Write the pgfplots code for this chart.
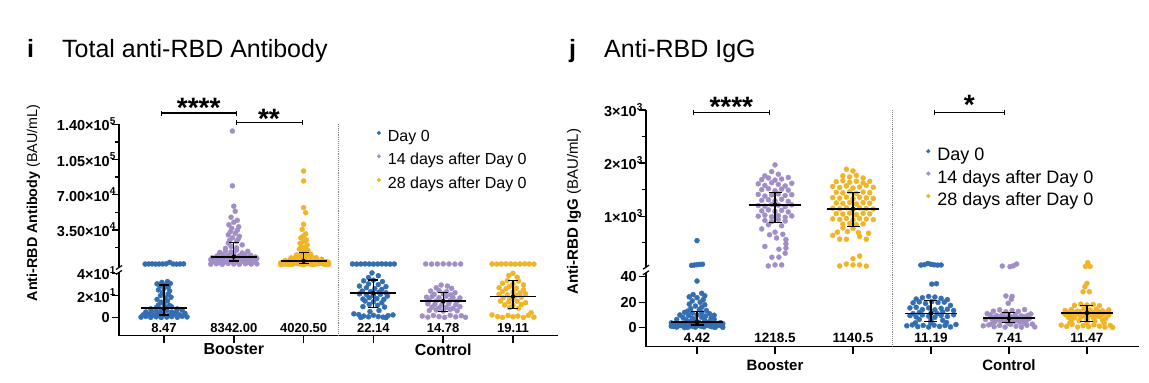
\documentclass[border=0pt]{standalone}
\usepackage{fontspec}
\setmainfont{Liberation Sans}
\usepackage{pgfplots}
\pgfplotsset{compat=1.18}
\usepackage{pgfplotstable}
\definecolor{cB}{RGB}{52,110,178}
\definecolor{cP}{RGB}{162,142,198}
\definecolor{cY}{RGB}{240,180,40}
\newcommand\sups[1]{\rlap{\raisebox{0.45em}{\fontsize{10}{10}\selectfont #1}}}
\pgfplotsset{
  base/.style={scale only axis, clip=false, clip mode=individual, tick align=outside,
    axis line style={line width=1.4pt,-},
    tick style={black, line width=1.4pt},
    major tick length=7.5pt, minor tick length=4.5pt,
    ticklabel style={font=\bfseries\fontsize{14.5}{14.5}\selectfont, inner sep=1.5pt},
    scaled y ticks=false},
  dots/.style={only marks, mark=*, mark size=2.5pt, mark options={draw=none}},
  iqr/.style={only marks, mark=none, forget plot, error bars/.cd, y dir=both, y explicit,
    error bar style={black, line width=1.3pt},
    error mark options={rotate=90, black, line width=1.3pt, mark size=#1}},
  medl/.style={black, line width=1.8pt, forget plot, mark=none},
}
% ---------------- panel i data ----------------
\pgfplotstableread{
dx y
-0.27 900
-0.22 1000
-0.17 1100
-0.12 900
-0.07 1000
-0.02 1000
0.03 1100
0.08 2600
0.13 1000
0.18 900
0.23 1000
0.28 1100
}\iAu
\pgfplotstableread{
dx y
-0.33 0.5
-0.26 1.2
-0.19 0.3
-0.11 0.8
-0.04 0.2
0.04 0.6
0.11 1.0
0.19 0.4
0.26 1.3
0.33 0.7
-0.30 2.5
-0.22 3.1
-0.15 2.2
-0.07 3.6
0.00 2.8
0.07 2.1
0.15 3.3
0.22 2.6
0.30 3.9
-0.26 5.2
-0.18 6.0
-0.11 5.6
-0.04 4.8
0.04 6.5
0.11 5.1
0.18 5.9
0.26 6.8
-0.19 8.0
-0.11 9.2
-0.04 7.6
0.04 8.8
0.11 9.8
0.19 7.9
-0.08 11.5
0.00 12.2
0.08 11.0
-0.04 14.0
0.05 15.2
-0.10 16.5
0.02 17.8
0.10 18.5
-0.05 20.0
0.06 21.3
-0.02 22.8
0.08 24.0
-0.08 25.0
0.00 26.5
0.06 27.5
-0.06 28.8
0.03 29.8
-0.10 30.5
0.09 30.9
-0.03 31.8
0.05 32.5
}\iAl
\pgfplotstableread{
dx y
-0.33 800
-0.25 1200
-0.165 600
-0.08 1500
0.00 1000
0.08 700
0.165 1300
0.25 900
0.33 1100
-0.31 3200
-0.22 3800
-0.13 3000
-0.04 3600
0.04 3400
0.13 3900
0.22 3100
0.31 3500
-0.20 2200
0.20 2400
-0.33 5200
-0.25 6000
-0.165 5500
-0.08 6400
0.00 5000
0.08 6200
0.165 5800
0.25 5300
0.33 6500
-0.31 7200
-0.22 7800
-0.13 8100
-0.04 7000
0.04 7600
0.13 8300
0.22 7400
0.31 7900
-0.24 9000
-0.16 10200
-0.08 9500
0.00 10800
0.08 9200
0.16 10000
0.24 9700
-0.20 12500
-0.12 14000
-0.04 13000
0.04 14800
0.12 12000
0.20 13600
-0.12 16500
-0.04 18500
0.04 17000
0.12 20000
-0.08 21800
0.04 23500
-0.06 24500
0.06 25500
-0.02 27000
0.08 28500
-0.08 30000
0.02 31500
-0.05 33000
0.05 34500
-0.03 36500
0.07 38000
-0.07 40000
0.00 42500
0.05 44500
-0.04 47500
0.02 53500
0.00 58500
-0.02 78800
-0.02 133300
}\iB
\pgfplotstableread{
dx y
-0.33 300
-0.25 900
-0.165 500
-0.08 1400
0.00 200
0.08 1100
0.165 700
0.25 1600
0.33 400
-0.29 1000
-0.21 600
-0.125 1500
-0.04 800
0.04 1200
0.125 350
0.21 1300
0.29 650
0.36 900
-0.33 2000
-0.25 2600
-0.165 3200
-0.08 1900
0.00 3800
0.08 2400
0.165 3000
0.25 2200
0.33 3500
-0.29 2800
-0.21 3400
-0.125 2100
-0.04 3900
0.04 2500
0.125 3600
0.21 1800
0.29 3100
0.36 2300
-0.26 4500
-0.19 5200
-0.11 6000
-0.04 4800
0.04 6500
0.11 5500
0.19 4300
0.26 5800
-0.18 7000
-0.11 8200
-0.04 7600
0.04 9500
0.11 8800
0.18 7300
-0.10 10000
-0.03 11500
0.04 12500
0.10 10800
0.00 13500
0.06 14500
-0.06 16000
0.03 17500
-0.03 18200
0.05 20000
-0.05 21600
0.00 23500
0.04 25000
-0.04 27000
0.00 28900
0.03 31000
-0.02 35500
0.00 40500
0.03 52000
0.00 57000
0.00 83600
0.00 93500
}\iC
\pgfplotstableread{
dx y
-0.30 1000
-0.24 900
-0.18 1000
-0.12 1100
-0.06 1000
0.00 900
0.06 1000
0.12 1100
0.18 1000
0.24 900
0.30 1000
}\iDu
\pgfplotstableread{
dx y
-0.02 40.3
0.07 37.8
-0.07 36.2
-0.14 33.2
0.00 33.8
0.13 32.5
-0.07 30.5
0.07 29.8
-0.20 28.5
0.18 28.0
-0.10 27.0
0.02 26.2
0.12 25.5
-0.16 24.0
-0.04 23.5
0.08 23.0
0.18 22.5
-0.20 21.5
-0.10 20.8
0.00 20.0
0.10 21.0
0.20 19.5
-0.06 18.0
0.05 17.2
0.15 16.5
-0.15 16.8
-0.12 15.0
0.00 14.2
0.12 13.5
-0.06 12.0
0.06 11.2
-0.15 10.0
0.16 9.6
-0.28 3.5
-0.21 2.8
-0.14 1.5
-0.07 0.8
0.00 2.2
0.07 1.0
0.14 0.5
0.21 1.8
0.28 2.5
-0.18 0.2
0.18 0.1
-0.05 5.5
0.08 6.5
}\iDl
\pgfplotstableread{
dx y
-0.25 1000
-0.167 900
-0.083 1000
0.00 1100
0.083 1000
0.167 900
0.25 1000
}\iEu
\pgfplotstableread{
dx y
-0.03 29.4
0.06 28.5
-0.10 27.0
0.12 26.5
-0.18 24.0
-0.06 24.5
0.05 23.5
0.17 22.5
-0.13 21.0
0.00 21.5
0.11 20.5
-0.24 18.5
-0.16 19.0
-0.06 18.0
0.04 19.2
0.14 18.2
0.24 17.8
-0.20 15.5
-0.10 15.0
0.00 14.6
0.10 15.5
0.20 14.8
-0.22 12.5
-0.12 12.0
-0.02 11.5
0.08 12.5
0.18 11.8
-0.16 9.5
-0.06 8.8
0.04 9.2
0.14 8.5
0.24 10.0
-0.20 6.5
-0.10 7.0
0.00 6.0
0.10 7.5
0.20 6.2
-0.30 1.5
-0.22 0.5
-0.14 2.0
-0.06 1.0
0.02 0.3
0.10 2.2
0.18 0.8
0.26 1.8
0.32 0.4
}\iEl
\pgfplotstableread{
dx y
-0.30 1000
-0.233 900
-0.167 1000
-0.10 1100
-0.033 1000
0.033 900
0.10 1000
0.167 1100
0.233 1000
0.30 900
}\iFu
\pgfplotstableread{
dx y
0.00 40.0
-0.06 38.0
0.06 36.5
-0.08 33.5
0.08 33.0
-0.15 31.0
0.00 30.5
0.15 29.5
-0.05 28.2
-0.20 27.0
-0.10 26.0
0.05 26.5
0.15 25.0
-0.15 23.5
0.00 23.0
0.10 22.2
-0.20 21.0
-0.08 20.5
0.05 20.0
0.18 21.5
-0.14 18.0
0.00 17.5
0.12 18.5
-0.05 16.2
-0.18 15.0
-0.06 14.2
0.06 14.8
0.18 13.5
-0.12 11.5
0.00 11.0
0.12 12.0
-0.05 9.0
0.08 8.5
-0.30 2.5
-0.22 1.0
-0.15 0.3
-0.07 2.0
0.00 0.8
0.07 1.5
0.15 0.2
0.22 2.2
0.30 0.5
0.26 4.5
}\iFl
% ---------------- panel j data ----------------
\pgfplotstableread{
dx y
0.00 540
-0.07 75
-0.035 80
0.00 88
0.035 92
0.07 96
}\jAu
\pgfplotstableread{
dx y
0.00 36.6
0.06 27.0
-0.05 26.0
0.10 25.0
-0.10 24.2
0.00 23.5
0.08 22.0
-0.06 21.0
0.04 20.0
-0.10 18.5
0.10 18.0
-0.02 17.0
0.06 16.0
-0.08 15.0
0.03 14.2
0.12 13.5
-0.12 13.0
-0.16 12.0
-0.06 11.5
0.06 11.8
0.16 11.0
-0.22 10.0
-0.11 9.5
0.00 10.0
0.11 9.2
0.22 9.8
-0.18 8.0
-0.06 7.5
0.06 8.2
0.18 7.6
-0.26 6.5
-0.14 6.0
-0.02 6.3
0.10 5.8
0.22 6.6
-0.08 5.0
0.16 4.8
-0.33 3.8
-0.26 4.2
-0.19 3.6
-0.12 4.4
-0.05 3.9
0.02 4.3
0.09 3.7
0.16 4.1
0.23 3.5
0.30 4.0
-0.30 2.5
-0.23 2.9
-0.16 2.3
-0.09 3.1
-0.02 2.6
0.05 2.2
0.12 3.0
0.19 2.4
0.26 2.8
0.33 3.2
-0.33 1.2
-0.26 0.5
-0.19 1.6
-0.12 0.3
-0.05 1.0
0.02 1.8
0.09 0.6
0.16 1.4
0.23 0.2
0.30 1.9
-0.30 0.9
-0.23 1.7
-0.16 0.1
-0.09 1.3
-0.02 0.4
0.05 1.1
0.12 2.0
0.19 0.8
0.26 1.5
0.33 0.3
}\jAl
\pgfplotstableread{
dx y
0.00 1966
-0.043 1840
0.043 1790
-0.13 1760
-0.17 1690
-0.085 1720
0.00 1680
0.085 1700
0.17 1730
-0.215 1610
-0.13 1580
-0.043 1630
0.043 1600
0.13 1570
0.215 1620
-0.17 1500
-0.085 1520
0.00 1480
0.085 1510
0.17 1490
-0.215 1410
-0.13 1380
-0.043 1400
0.043 1420
0.13 1390
0.215 1405
-0.17 1300
-0.085 1310
0.00 1290
0.085 1320
0.17 1280
-0.215 1200
-0.13 1190
-0.043 1220
0.043 1210
0.13 1180
0.215 1215
-0.17 1100
-0.085 1120
0.00 1090
0.085 1110
0.17 1080
-0.215 1000
-0.13 1020
-0.043 990
0.043 1010
0.13 980
0.215 1005
-0.13 920
-0.043 900
0.043 940
0.13 910
-0.085 840
0.085 820
-0.17 760
0.00 700
0.10 660
-0.07 650
0.02 590
0.14 560
-0.13 430
0.14 480
0.14 400
0.05 378
0.13 303
-0.04 228
0.05 228
-0.086 64
0.00 83
0.085 83
}\jB
\pgfplotstableread{
dx y
-0.085 1885
0.00 1853
-0.13 1760
-0.043 1740
0.043 1770
0.13 1720
-0.215 1650
-0.13 1670
-0.043 1640
0.043 1660
0.13 1630
0.215 1655
-0.26 1560
-0.17 1540
-0.085 1570
0.00 1530
0.085 1550
0.17 1580
0.26 1545
-0.215 1450
-0.13 1440
-0.043 1460
0.043 1430
0.13 1455
0.215 1445
-0.26 1350
-0.17 1340
-0.085 1360
0.00 1330
0.085 1355
0.17 1345
0.26 1335
-0.215 1250
-0.13 1240
-0.043 1260
0.043 1230
0.13 1255
0.215 1245
-0.26 1150
-0.17 1140
-0.085 1160
0.00 1130
0.085 1155
0.17 1145
0.26 1135
-0.215 1050
-0.13 1040
-0.043 1060
0.043 1030
0.13 1055
0.215 1045
-0.26 950
-0.17 940
-0.085 960
0.00 930
0.085 955
0.17 945
0.26 935
-0.13 850
-0.043 860
0.043 840
0.13 855
-0.13 780
0.00 770
-0.20 700
-0.07 710
0.07 690
0.20 680
-0.26 640
-0.17 567
-0.085 567
0.085 620
0.17 567
0.00 200
0.085 250
-0.17 64
-0.085 100
0.00 83
0.085 83
0.17 60
}\jC
\pgfplotstableread{
dx y
-0.13 80
-0.085 88
-0.04 110
0.00 95
0.04 85
0.085 80
0.13 82
}\jDu
\pgfplotstableread{
dx y
0.01 34.2
0.07 34.5
-0.19 22.5
-0.11 23.5
-0.03 24.5
0.05 24.0
0.13 23.0
0.21 22.0
-0.23 19.5
-0.15 20.2
-0.07 19.0
0.01 20.5
0.09 19.8
0.17 20.0
0.25 17.5
-0.27 15.5
-0.19 16.0
-0.11 14.2
-0.03 15.5
0.05 14.0
0.13 15.2
0.21 14.5
0.29 13.5
-0.15 12.0
0.00 11.5
0.15 12.2
-0.27 9.5
-0.19 8.5
-0.11 10.0
-0.03 9.0
0.05 8.2
0.13 9.6
0.21 8.8
0.29 10.2
-0.23 11.0
0.08 11.0
-0.15 6.5
0.00 6.0
0.15 5.8
-0.31 1.5
-0.24 2.2
-0.17 0.8
-0.10 1.8
-0.03 0.5
0.04 2.0
0.11 1.0
0.18 1.7
0.25 0.6
0.32 2.5
-0.20 3.8
0.00 3.5
0.20 4.0
}\jDl
\pgfplotstableread{
dx y
-0.086 62
0.013 50
0.055 65
0.098 100
}\jEu
\pgfplotstableread{
dx y
-0.04 24.9
0.04 24.5
0.03 22.3
-0.01 19.1
-0.20 13.0
-0.12 14.0
-0.04 12.5
0.04 13.5
0.12 12.8
0.20 14.2
-0.28 11.0
0.28 10.8
-0.24 10.0
-0.16 9.5
-0.08 10.5
0.00 9.8
0.08 10.2
0.16 9.2
0.24 9.6
-0.20 8.0
-0.12 8.5
-0.04 7.8
0.04 8.2
0.12 7.6
0.20 8.4
-0.30 6.5
-0.22 7.0
-0.14 6.2
-0.06 6.8
0.02 7.2
0.10 6.0
0.18 6.6
0.26 7.1
-0.18 4.8
-0.10 5.2
-0.02 4.5
0.06 5.0
0.14 4.2
0.22 5.3
-0.33 1.5
-0.26 2.2
-0.19 0.8
-0.12 1.8
-0.05 0.5
0.02 2.6
0.09 1.2
0.16 0.4
0.23 1.9
0.30 2.8
0.33 0.6
-0.22 3.2
0.00 3.4
0.20 3.5
}\jEl
\pgfplotstableread{
dx y
0.01 126
-0.02 55
0.04 55
}\jFu
\pgfplotstableread{
dx y
0.00 34.8
-0.026 32.2
0.03 28.2
-0.05 28.2
-0.16 17.5
-0.08 18.5
0.00 17.8
0.08 18.2
0.16 17.2
-0.28 13.5
-0.20 14.2
-0.12 13.0
-0.04 14.8
0.04 13.8
0.12 14.5
0.20 13.2
0.28 14.0
-0.24 12.0
-0.16 11.8
-0.08 12.5
0.00 12.2
0.08 11.9
0.16 12.4
0.24 11.7
-0.28 10.5
-0.20 9.8
-0.12 10.8
-0.04 9.5
0.04 10.2
0.12 9.2
0.20 10.6
0.28 9.9
-0.24 8.2
-0.16 7.8
-0.08 8.5
0.00 7.5
0.08 8.0
0.16 8.8
0.24 7.2
-0.20 6.0
-0.10 5.5
0.00 6.3
0.10 5.2
0.20 5.8
-0.33 2.0
-0.26 1.0
-0.19 2.6
-0.12 0.5
-0.05 1.6
0.02 0.8
0.09 2.2
0.16 1.2
0.23 0.4
0.30 1.8
-0.22 3.8
0.00 4.0
0.22 3.6
0.33 0.2
}\jFl
\begin{document}
\begin{tikzpicture}[x=1pt,y=1pt]
\path[use as bounding box] (0,0) rectangle (1149,383);
% titles
\node[anchor=base west, inner sep=0pt, font=\bfseries\fontsize{25}{25}\selectfont] at (27,325) {i};
\node[anchor=base west, inner sep=0pt, font=\fontsize{25}{25}\selectfont] at (62,325) {Total anti-RBD Antibody};
\node[anchor=base west, inner sep=0pt, font=\bfseries\fontsize{25}{25}\selectfont] at (569,325) {j};
\node[anchor=base west, inner sep=0pt, font=\fontsize{25}{25}\selectfont] at (604,325) {Anti-RBD IgG};
% y labels
\node[rotate=90, inner sep=0pt, font=\fontsize{14.3}{14.3}\selectfont] at (33.5,180) {\textbf{Anti-RBD Antibody} (BAU/mL)};
\node[rotate=90, inner sep=0pt, font=\fontsize{15}{15}\selectfont] at (574,171.3) {\textbf{Anti-RBD IgG} (BAU/mL)};

% ===== panel i upper =====
\begin{axis}[base, at={(119pt,115.5pt)}, anchor=south west, width=439pt, height=143.2pt,
  xmin=0.355, xmax=6.645, ymin=-2500, ymax=140000,
  axis x line=none, axis y line*=left, xtick=\empty,
  ytick={35000,70000,105000,140000},
  yticklabels={3.50×10\sups{4},7.00×10\sups{4},1.05×10\sups{5},1.40×10\sups{5}},
  minor ytick={17500,52500,87500,122500},
  legend style={draw=none, fill=none, at={(axis description cs:0.587,0.975)}, anchor=north west,
    font=\fontsize{16}{16}\selectfont, inner sep=0pt, row sep=6.5pt, column sep=5pt},
  legend cell align=left,
  legend image code/.code={\fill[#1] (2pt,3.5pt) circle (1.8pt);},
]
\draw[gray, densely dotted, line width=0.9pt] (axis cs:3.5,-2500) -- (axis cs:3.5,140000);
\addplot[dots, cB] table[x expr=\thisrow{dx}+1, y=y] {\iAu};
\addlegendentry{Day 0}
\addplot[dots, cP] table[x expr=\thisrow{dx}+2, y=y] {\iB};
\addlegendentry{14 days after Day 0}
\addplot[dots, cY] table[x expr=\thisrow{dx}+3, y=y] {\iC};
\addlegendentry{28 days after Day 0}
\addplot[dots, cB, forget plot] table[x expr=\thisrow{dx}+4, y=y] {\iDu};
\addplot[dots, cP, forget plot] table[x expr=\thisrow{dx}+5, y=y] {\iEu};
\addplot[dots, cY, forget plot] table[x expr=\thisrow{dx}+6, y=y] {\iFu};
\addplot[medl] coordinates {(1.67,8342) (2.33,8342)};
\addplot[iqr=5pt] coordinates {(2,8342) += (0,14258) -= (0,4342)};
\addplot[medl] coordinates {(2.67,4020.5) (3.33,4020.5)};
\addplot[iqr=5pt] coordinates {(3,4020.5) += (0,8579.5) -= (0,2320.5)};
% brackets
\draw[line width=1.1pt] (axis cs:0.967,151240) -- (axis cs:2.036,151240);
\draw[line width=1.1pt] (axis cs:0.967,151240) ++(0pt,-2.5pt) -- ++(0pt,5pt);
\draw[line width=1.1pt] (axis cs:2.036,151240) ++(0pt,-2.5pt) -- ++(0pt,5pt);
\draw[line width=1.1pt] (axis cs:2.036,141990) -- (axis cs:2.99,141990);
\draw[line width=1.1pt] (axis cs:2.036,141990) ++(0pt,-2.5pt) -- ++(0pt,5pt);
\draw[line width=1.1pt] (axis cs:2.99,141990) ++(0pt,-2.5pt) -- ++(0pt,5pt);
\node[anchor=base, inner sep=0pt, font=\bfseries\fontsize{28}{28}\selectfont] at (axis cs:1.497,146270) {****};
\node[anchor=base, inner sep=0pt, font=\bfseries\fontsize{28}{28}\selectfont] at (axis cs:2.504,136300) {**};
\draw[line width=1.2pt] (rel axis cs:0,0) ++(-3pt,-2pt) -- ++(6pt,4pt);
\end{axis}

% ===== panel i lower =====
\begin{axis}[base, at={(119pt,47.3pt)}, anchor=south west, width=439pt, height=63.3pt,
  xmin=0.355, xmax=6.645, ymin=-16.2, ymax=40.8,
  axis x line*=bottom, axis y line*=left,
  xtick={1,2,3,4,5,6}, xticklabels={,,,,,},
  ytick={0,20,40}, yticklabels={0,2×10\sups{1},4×10\sups{1}},
]
\draw[gray, densely dotted, line width=0.9pt] (axis cs:3.5,-16.2) -- (axis cs:3.5,40.8) -- ++(0pt,5pt);
\addplot[dots, cB] table[x expr=\thisrow{dx}+1, y=y] {\iAl};
\addplot[dots, cB] table[x expr=\thisrow{dx}+4, y=y] {\iDl};
\addplot[dots, cP] table[x expr=\thisrow{dx}+5, y=y] {\iEl};
\addplot[dots, cY] table[x expr=\thisrow{dx}+6, y=y] {\iFl};
\addplot[medl] coordinates {(0.67,8.47) (1.33,8.47)};
\addplot[iqr=5pt] coordinates {(1,8.47) += (0,21.03) -= (0,6.07)};
\addplot[medl] coordinates {(3.67,22.14) (4.33,22.14)};
\addplot[iqr=5pt] coordinates {(4,22.14) += (0,11.86) -= (0,13.14)};
\addplot[medl] coordinates {(4.67,14.78) (5.33,14.78)};
\addplot[iqr=5pt] coordinates {(5,14.78) += (0,7.72) -= (0,9.38)};
\addplot[medl] coordinates {(5.67,19.11) (6.33,19.11)};
\addplot[iqr=5pt] coordinates {(6,19.11) += (0,14.19) -= (0,10.61)};
\begin{scope}[every node/.style={font=\bfseries\fontsize{13}{13}\selectfont, inner sep=0pt}]
\node at (axis cs:1,-9.5) {8.47};
\node at (axis cs:2,-9.5) {8342.00};
\node at (axis cs:3,-9.5) {4020.50};
\node at (axis cs:4,-9.5) {22.14};
\node at (axis cs:5,-9.5) {14.78};
\node at (axis cs:6,-9.5) {19.11};
\end{scope}
\node[font=\bfseries\fontsize{16}{16}\selectfont, inner sep=0pt] at (axis cs:2,-16.2) [yshift=-13.8pt] {Booster};
\node[font=\bfseries\fontsize{16}{16}\selectfont, inner sep=0pt] at (axis cs:5,-16.2) [yshift=-13.8pt] {Control};
\draw[line width=1.2pt] (rel axis cs:0,1) ++(-3pt,-2pt) -- ++(6pt,4pt);
\end{axis}

% ===== panel j upper =====
\begin{axis}[base, at={(646pt,115.8pt)}, anchor=south west, width=493pt, height=157.2pt,
  xmin=0.346, xmax=6.667, ymin=40, ymax=3000,
  axis x line=none, axis y line*=left, xtick=\empty,
  ytick={1000,2000,3000},
  yticklabels={1×10\sups{3},2×10\sups{3},3×10\sups{3}},
  minor ytick={500,1500,2500},
  legend style={draw=none, fill=none, at={(axis description cs:0.568,0.771)}, anchor=north west,
    font=\fontsize{18}{18}\selectfont, inner sep=0pt, row sep=4pt, column sep=5pt},
  legend cell align=left,
  legend image code/.code={\fill[#1] (2pt,4pt) circle (1.9pt);},
]
\draw[gray, densely dotted, line width=0.9pt] (axis cs:3.51,40) -- (axis cs:3.51,3000);
\addplot[dots, cB] table[x expr=\thisrow{dx}+1, y=y] {\jAu};
\addlegendentry{Day 0}
\addplot[dots, cP] table[x expr=\thisrow{dx}+2, y=y] {\jB};
\addlegendentry{14 days after Day 0}
\addplot[dots, cY] table[x expr=\thisrow{dx}+3, y=y] {\jC};
\addlegendentry{28 days after Day 0}
\addplot[dots, cB, forget plot] table[x expr=\thisrow{dx}+4, y=y] {\jDu};
\addplot[dots, cP, forget plot] table[x expr=\thisrow{dx}+5, y=y] {\jEu};
\addplot[dots, cY, forget plot] table[x expr=\thisrow{dx}+6, y=y] {\jFu};
\addplot[medl] coordinates {(1.67,1218.5) (2.33,1218.5)};
\addplot[iqr=6.5pt] coordinates {(2,1218.5) += (0,225.5) -= (0,338.5)};
\addplot[medl] coordinates {(2.67,1140.5) (3.33,1140.5)};
\addplot[iqr=6.5pt] coordinates {(3,1140.5) += (0,303.5) -= (0,340.5)};
\draw[line width=1.1pt] (axis cs:0.95,2957) -- (axis cs:1.93,2957);
\draw[line width=1.1pt] (axis cs:0.95,2957) ++(0pt,-2.5pt) -- ++(0pt,5pt);
\draw[line width=1.1pt] (axis cs:1.93,2957) ++(0pt,-2.5pt) -- ++(0pt,5pt);
\draw[line width=1.1pt] (axis cs:4.04,2957) -- (axis cs:4.94,2957);
\draw[line width=1.1pt] (axis cs:4.04,2957) ++(0pt,-2.5pt) -- ++(0pt,5pt);
\draw[line width=1.1pt] (axis cs:4.94,2957) ++(0pt,-2.5pt) -- ++(0pt,5pt);
\node[anchor=base, inner sep=0pt, font=\bfseries\fontsize{28}{28}\selectfont] at (axis cs:1.44,2874) {****};
\node[anchor=base, inner sep=0pt, font=\bfseries\fontsize{28}{28}\selectfont] at (axis cs:4.49,2906) {*};
\draw[line width=1.2pt] (rel axis cs:0,0) ++(-3pt,-2pt) -- ++(6pt,4pt);
\end{axis}

% ===== panel j lower =====
\begin{axis}[base, at={(646pt,36.3pt)}, anchor=south west, width=493pt, height=73.9pt,
  xmin=0.346, xmax=6.667, ymin=-14.9, ymax=43.06,
  axis x line*=bottom, axis y line*=left,
  xtick={1,2,3,4,5,6}, xticklabels={,,,,,},
  ytick={0,20,40}, yticklabels={0,20,40},
]
\draw[gray, densely dotted, line width=0.9pt] (axis cs:3.51,-14.9) -- (axis cs:3.51,43.06) -- ++(0pt,5.6pt);
\addplot[dots, cB] table[x expr=\thisrow{dx}+1, y=y] {\jAl};
\addplot[dots, cB] table[x expr=\thisrow{dx}+4, y=y] {\jDl};
\addplot[dots, cP] table[x expr=\thisrow{dx}+5, y=y] {\jEl};
\addplot[dots, cY] table[x expr=\thisrow{dx}+6, y=y] {\jFl};
\addplot[medl] coordinates {(0.67,4.42) (1.33,4.42)};
\addplot[iqr=6.5pt] coordinates {(1,4.42) += (0,8.08) -= (0,2.32)};
\addplot[medl] coordinates {(3.67,11.19) (4.33,11.19)};
\addplot[iqr=6.5pt] coordinates {(4,11.19) += (0,10.01) -= (0,6.49)};
\addplot[medl] coordinates {(4.67,7.41) (5.33,7.41)};
\addplot[iqr=6.5pt] coordinates {(5,7.41) += (0,4.69) -= (0,3.51)};
\addplot[medl] coordinates {(5.67,11.47) (6.33,11.47)};
\addplot[iqr=6.5pt] coordinates {(6,11.47) += (0,5.83) -= (0,6.77)};
\begin{scope}[every node/.style={font=\bfseries\fontsize{13.5}{13.5}\selectfont, inner sep=0pt}]
\node at (axis cs:1,-8.3) {4.42};
\node at (axis cs:2,-8.3) {1218.5};
\node at (axis cs:3,-8.3) {1140.5};
\node at (axis cs:4,-8.3) {11.19};
\node at (axis cs:5,-8.3) {7.41};
\node at (axis cs:6,-8.3) {11.47};
\end{scope}
\node[font=\bfseries\fontsize{15}{15}\selectfont, inner sep=0pt] at (axis cs:2,-14.9) [yshift=-18.8pt] {Booster};
\node[font=\bfseries\fontsize{15}{15}\selectfont, inner sep=0pt] at (axis cs:5,-14.9) [yshift=-18.8pt] {Control};
\draw[line width=1.2pt] (rel axis cs:0,1) ++(-3pt,-2pt) -- ++(6pt,4pt);
\end{axis}
\end{tikzpicture}
\end{document}
